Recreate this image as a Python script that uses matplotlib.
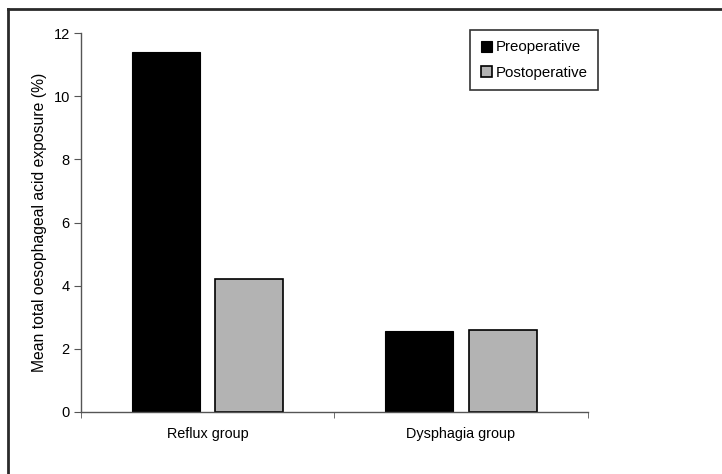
import matplotlib
matplotlib.use("Agg")
import matplotlib.pyplot as plt
from matplotlib.lines import Line2D
import numpy as np

# datos
grupos = ["Reflux group", "Dysphagia group"]
preoperative = [11.4, 2.55]
postoperative = [4.2, 2.6]

plt.rcParams['font.family'] = ['Liberation Sans', 'DejaVu Sans']

fig = plt.figure(figsize=(7.22, 4.74), dpi=100)
ax = fig.add_axes([0.112, 0.131, 0.702, 0.799])

x = np.arange(len(grupos))
ancho = 0.268
ax.bar(x - 0.164, preoperative, ancho, color='black', edgecolor='black', linewidth=0.8, label='Preoperative')
ax.bar(x + 0.164, postoperative, ancho, color='#b3b3b3', edgecolor='black', linewidth=1.2, label='Postoperative')

ax.set_xlim(-0.5, 1.5)
ax.set_ylim(0, 12)
ax.set_yticks(range(0, 13, 2))
ax.set_xticks(x)
ax.set_xticklabels(grupos, fontsize=10.4)
ax.set_xticks([-0.5, 0.5, 1.5], minor=True)
ax.tick_params(axis='x', which='major', length=0, pad=11)
ax.tick_params(axis='x', which='minor', length=4, color='#555555', direction='out')
ax.tick_params(axis='y', length=5, color='#555555', labelsize=10.5, pad=3)
ax.set_ylabel('Mean total oesophageal acid exposure (%)', fontsize=11.3)
ax.yaxis.set_label_coords(-0.066, 0.5)

for lado in ['top', 'right']:
    ax.spines[lado].set_visible(False)
for lado in ['left', 'bottom']:
    ax.spines[lado].set_color('#555555')
    ax.spines[lado].set_linewidth(1)

leg = ax.legend(loc='upper left', bbox_to_anchor=(470 / 722, 1 - 30 / 474), bbox_transform=fig.transFigure,
                fontsize=10.8, frameon=True, fancybox=False, handlelength=0.75, handleheight=0.75,
                handletextpad=0.25, borderpad=0.7, labelspacing=0.75, borderaxespad=0)
leg.get_frame().set_edgecolor('black')
leg.get_frame().set_linewidth(1.2)

# borde recortado (izquierda y arriba)
fig.add_artist(Line2D([8 / 722, 8 / 722], [0, 1 - 9 / 474], color='#2a2a2a', linewidth=2, transform=fig.transFigure))
fig.add_artist(Line2D([8 / 722, 1], [1 - 9 / 474, 1 - 9 / 474], color='#2a2a2a', linewidth=2, transform=fig.transFigure))

fig.savefig('out.png', dpi=100)
